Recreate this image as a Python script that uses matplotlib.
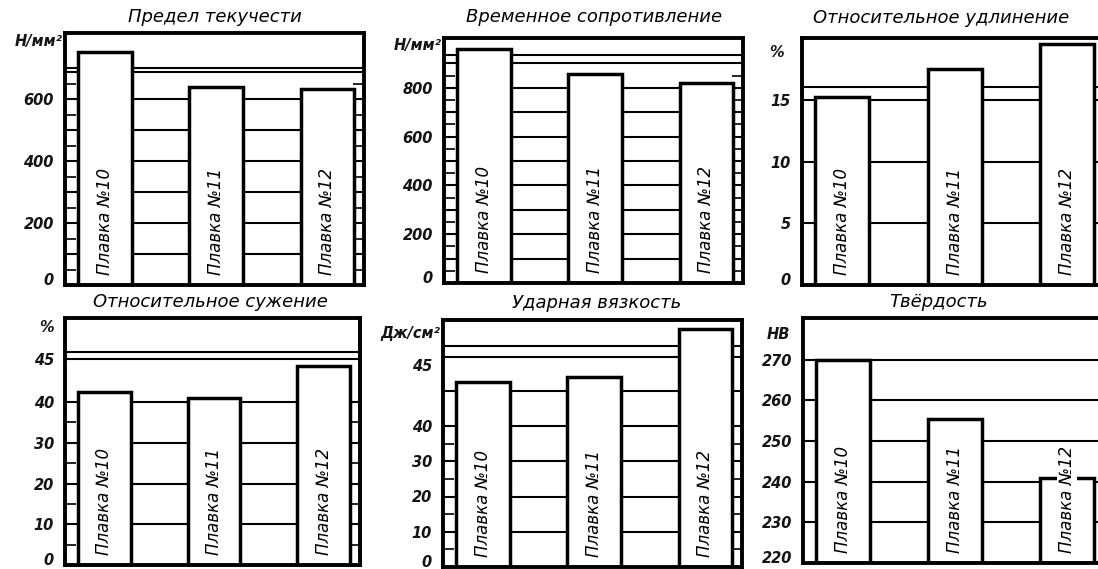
import numpy as np
import matplotlib.pyplot as plt
from matplotlib.ticker import FixedLocator, NullLocator

plt.rcParams['font.family'] = ['DejaVu Sans']

W, H = 1098, 569

# данные по трём плавкам
heats = ['Плавка №10', 'Плавка №11', 'Плавка №12']
titles = ['Предел текучести', 'Временное сопротивление', 'Относительное удлинение',
          'Относительное сужение', 'Ударная вязкость', 'Твёрдость']
units = ['Н/мм²', 'Н/мм²', '%', '%', 'Дж/см²', 'НВ']

yield_strength = [752, 639, 632]
tensile_strength = [960, 855, 818]
elongation = [15.2, 17.5, 19.5]
reduction = [41.2, 40.5, 44.2]
impact = [43.6, 44.0, 48.0]
hardness = [270, 255.5, 241]

tick_values = [[0, 200, 400, 600], [0, 200, 400, 600, 800], [0, 5, 10, 15],
               [0, 10, 20, 30, 40, 45], [0, 10, 20, 30, 40, 45],
               [220, 230, 240, 250, 260, 270]]
grid_values = [[100, 200, 300, 400, 500, 600, 687, 700],
               [100, 200, 300, 400, 500, 600, 700, 800, 900, 935],
               [5, 10, 15, 16],
               [10, 20, 30, 40, 45, 45.8],
               [10, 20, 30, 40, 42.9, 45.7, 46.6],
               [230, 240, 250, 260, 270]]
minor_values = [list(range(50, 700, 100)), list(range(50, 900, 100)), [],
                [5, 15, 25, 35], [5, 15, 25, 35], []]
unit_pos = [784, 975, 18.8, 48.7, 47.6, 276.2]

series = [yield_strength, tensile_strength, elongation, reduction, impact, hardness]

# оформление: рамки панелей в пикселях (лево, право, верх, низ)
boxes = [(65, 364, 33, 285), (444, 743, 38, 283), (802, 1104, 38, 285),
         (65, 360, 318, 565), (443, 742, 320, 567), (803, 1104, 318, 563)]
# шкала по оси y (кусочно-линейная, как на исходном рисунке)
scales = [([0, 813], [0, 1]), ([0, 1004], [0, 1]), ([0, 20], [0, 1]),
          ([0, 40, 49.8], [0, 163 / 247, 1]), ([0, 40, 48.7], [0, 141 / 247, 1]),
          ([220, 280.3], [0, 1])]
title_xy = [(215, 17), (594, 17), (941, 18), (210, 302), (597, 303), (939, 302)]
unit_pad = [2, 1.5, 13, 8, 2, 9]


def piecewise(vals, pos):
    v = np.asarray(vals, float)
    p = np.asarray(pos, float)

    def conv(y, a, b):
        y = np.asarray(y, float)
        out = np.interp(y, a, b)
        out = np.where(y < a[0], b[0] + (y - a[0]) * (b[1] - b[0]) / (a[1] - a[0]), out)
        out = np.where(y > a[-1], b[-1] + (y - a[-1]) * (b[-1] - b[-2]) / (a[-1] - a[-2]), out)
        return out

    return (lambda y: conv(y, v, p)), (lambda q: conv(q, p, v))


fig = plt.figure(figsize=(W / 100, H / 100), dpi=100)
x = np.arange(len(heats))

for i in range(6):
    l, r, t, b = boxes[i]
    ax = fig.add_axes([l / W, 1 - b / H, (r - l) / W, (b - t) / H])
    vals, pos = scales[i]
    ax.set_yscale('function', functions=piecewise(vals, pos))
    ax.set_ylim(vals[0], vals[-1])
    ax.set_xlim(-0.36, 2.33)

    for g in grid_values[i]:
        ax.axhline(g, color='black', lw=1.5, zorder=1)

    base = vals[0]
    ax.bar(x, np.array(series[i]) - base, bottom=base, width=0.48,
           facecolor='white', edgecolor='black', linewidth=2.5, zorder=2)

    for xi, name in zip(x, heats):
        ax.text(xi, 0.04, name, transform=ax.get_xaxis_transform(), rotation=90,
                ha='center', va='bottom', fontsize=12, fontstyle='italic', zorder=3,
                bbox=dict(facecolor='white', edgecolor='none', pad=0.5))

    ax.set_yticks(tick_values[i])
    ax.set_yticklabels([str(v) for v in tick_values[i]], fontsize=10.5,
                       fontstyle='italic', fontweight='bold', color='#141414')
    # нижняя подпись чуть выше края, как на образце
    ax.get_yticklabels()[0].set_va('baseline')
    ax.yaxis.set_minor_locator(FixedLocator(minor_values[i]))
    ax.tick_params(axis='y', which='major', length=0, pad=8)
    ax.tick_params(axis='y', which='minor', direction='in', length=8, width=1.2,
                   left=True, right=True)
    ax.xaxis.set_major_locator(NullLocator())
    for s in ax.spines.values():
        s.set_linewidth(2.8)

    ax.annotate(units[i], xy=(0, unit_pos[i]), xycoords=('axes fraction', 'data'),
                xytext=(-unit_pad[i], 0), textcoords='offset points',
                ha='right', va='center', fontsize=10.5, fontstyle='italic',
                fontweight='bold', color='#141414')

    tx, ty = title_xy[i]
    fig.text(tx / W, 1 - ty / H, titles[i], ha='center', va='center',
             fontsize=13, fontstyle='italic')

fig.savefig('out.png', dpi=100)
